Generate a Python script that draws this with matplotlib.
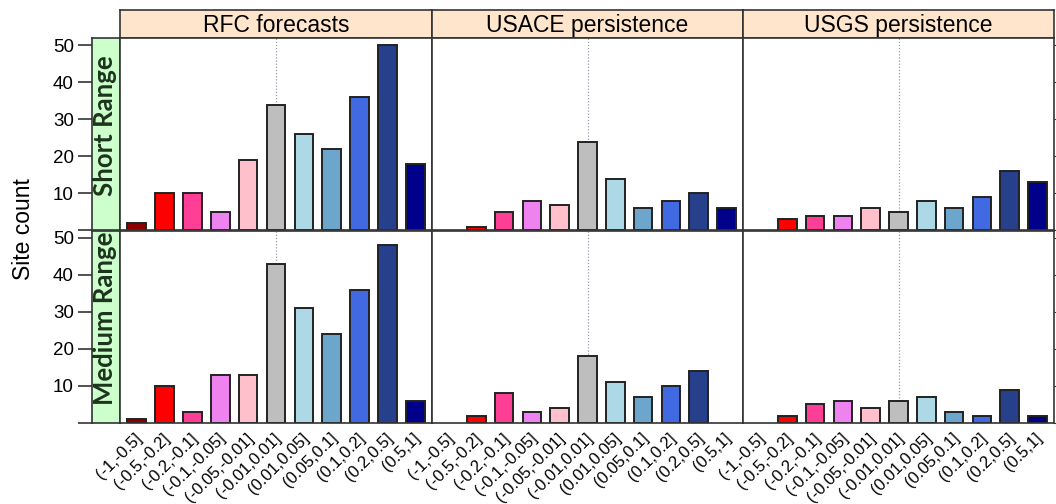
import numpy as np
import matplotlib.pyplot as plt
import matplotlib.transforms as mtrans

bins = ["(-1,-0.5]", "(-0.5,-0.2]", "(-0.2,-0.1]", "(-0.1,-0.05]", "(-0.05,-0.01]",
        "(-0.01,0.01]", "(0.01,0.05]", "(0.05,0.1]", "(0.1,0.2]", "(0.2,0.5]", "(0.5,1]"]
bin_colors = ["#8B0000", "#FF0000", "#FF3E96", "#EE82EE", "#FFC0CB", "#BEBEBE",
              "#ADD8E6", "#6CA6CD", "#4169E1", "#27408B", "#00008B"]

sources = ["RFC forecasts", "USACE persistence", "USGS persistence"]
ranges = ["Short Range", "Medium Range"]

rfc_short = [2, 10, 10, 5, 19, 34, 26, 22, 36, 50, 18]
rfc_medium = [1, 10, 3, 13, 13, 43, 31, 24, 36, 48, 6]
usace_short = [0, 1, 5, 8, 7, 24, 14, 6, 8, 10, 6]
usace_medium = [0, 2, 8, 3, 4, 18, 11, 7, 10, 14, 0]
usgs_short = [0, 3, 4, 4, 6, 5, 8, 6, 9, 16, 13]
usgs_medium = [0, 2, 5, 6, 4, 6, 7, 3, 2, 9, 2]

counts = [[rfc_short, usace_short, usgs_short],
          [rfc_medium, usace_medium, usgs_medium]]

plt.rcParams['font.family'] = ['Liberation Sans', 'DejaVu Sans']
W, H = 1056, 504
fig = plt.figure(figsize=(W / 100, H / 100), dpi=100)


def box(x0, y0, x1, y1):
    # pixel box (top-left origin) -> figure fraction rect
    return [x0 / W, 1 - y1 / H, (x1 - x0) / W, (y1 - y0) / H]


cols = [(120, 432), (432, 743), (743, 1054)]
rows = [(38, 230.5), (230.5, 423)]
edge = "#333333"
x = np.arange(1, len(bins) + 1)

# column strips
for j, (x0, x1) in enumerate(cols):
    s = fig.add_axes(box(x0, 10, x1, 38))
    s.set_facecolor("#FFE5CC")
    s.set_xticks([]); s.set_yticks([])
    for sp in s.spines.values():
        sp.set_color(edge); sp.set_linewidth(1.2)
    s.text(0.5, 0.45, sources[j], ha="center", va="center", fontsize=16.5,
           transform=s.transAxes)

for i, (y0, y1) in enumerate(rows):
    # row strip with the y axis on its left edge
    g = fig.add_axes(box(92, y0, 120, y1))
    g.set_facecolor("#CCFFCC")
    g.set_xticks([])
    g.set_ylim(0, 52)
    g.set_yticks([0, 10, 20, 30, 40, 50])
    g.set_yticklabels(["", "10", "20", "30", "40", "50"])
    g.tick_params(axis="y", length=10, width=1.2, color=edge, labelsize=13.5, pad=3)
    for sp in g.spines.values():
        sp.set_color(edge); sp.set_linewidth(1.2)
    g.text(0.45, 0.545, ranges[i], rotation=90, ha="center", va="center",
           fontsize=18.5, fontweight="bold", color="#1C331C", family=["Lato", "DejaVu Sans"],
           transform=g.transAxes)

    for j, (x0, x1) in enumerate(cols):
        ax = fig.add_axes(box(x0, y0, x1, y1))
        vals = np.array(counts[i][j])
        keep = vals > 0
        ax.bar(x[keep], vals[keep], width=0.67, color=np.array(bin_colors)[keep],
               edgecolor="#222222", linewidth=1.4, zorder=2)
        ax.axvline(6, color="#9A9AB0", linestyle=(0, (1, 1.5)), linewidth=0.9, zorder=1)
        ax.set_xlim(0.4, 11.6)
        ax.set_ylim(0, 52)
        ax.set_yticks([])
        for sp in ax.spines.values():
            sp.set_color(edge); sp.set_linewidth(1.2)
        if j == 2:
            ax.yaxis.tick_right()
            ax.set_yticks([0, 10, 20, 30, 40, 50])
            ax.tick_params(axis="y", length=4, color=edge, labelright=False)
        if i == 1:
            ax.set_xticks(x)
            ax.set_xticklabels(bins, rotation=45, ha="right", va="center",
                               rotation_mode="anchor", fontsize=12)
            ax.tick_params(axis="x", length=0, pad=9)
            shift = mtrans.ScaledTranslation(3 / 100, 0, fig.dpi_scale_trans)
            for lab in ax.get_xticklabels():
                lab.set_transform(lab.get_transform() + shift)
        else:
            ax.set_xticks([])

fig.text(24 / W, 1 - 229 / H, "Site count", rotation=90, ha="center", va="center",
         fontsize=16.5)

fig.savefig("out.png", dpi=100)
